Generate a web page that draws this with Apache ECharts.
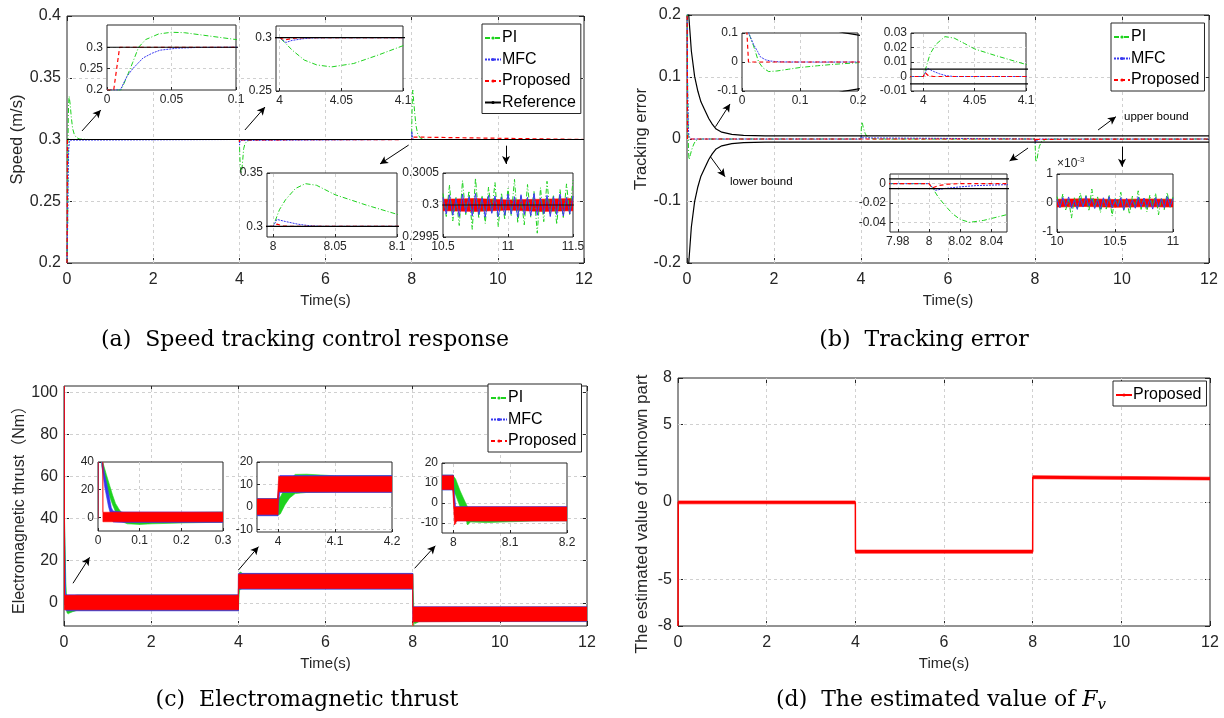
<!DOCTYPE html>
<html><head><meta charset="utf-8">
<script src="https://cdn.jsdelivr.net/npm/echarts@6/dist/echarts.min.js"></script>
<style>html,body{margin:0;padding:0;background:#fff}#c{width:1224px;height:718px}</style>
</head><body><div id="c"></div>
<script>
// ---------------- DATA ----------------
// (a) speed tracking
const aRef = [[0,0.3],[12,0.3]];
const aPI = [[0,0.2],[0.011,0.2],[0.016,0.235],[0.02,0.265],[0.0245,0.3],[0.03,0.318],[0.04,0.331],[0.05,0.335],[0.06,0.334],[0.075,0.328],[0.1,0.318],[0.13,0.309],[0.17,0.304],[0.22,0.3015],[0.3,0.3003],[0.5,0.3],[4,0.3],[4.005,0.2945],[4.01,0.2885],[4.02,0.279],[4.03,0.2745],[4.042,0.2726],[4.06,0.2758],[4.08,0.2838],[4.1,0.2925],[4.13,0.2965],[4.18,0.2988],[4.3,0.2998],[4.5,0.3],[8,0.3],[8.005,0.3155],[8.01,0.325],[8.018,0.3355],[8.026,0.34],[8.035,0.3385],[8.05,0.3296],[8.075,0.32],[8.1,0.3113],[8.14,0.3045],[8.2,0.3012],[8.3,0.3002],[8.5,0.3],[12,0.3]];
const aMFC = [[0,0.2],[0.0103,0.2],[0.0155,0.232],[0.02,0.25],[0.028,0.275],[0.035,0.286],[0.041,0.293],[0.054,0.2977],[0.07,0.2995],[0.1,0.3],[4,0.3],[4.005,0.2955],[4.01,0.2975],[4.02,0.2992],[4.027,0.2998],[4.04,0.3],[8,0.3],[8.003,0.3065],[8.01,0.3045],[8.02,0.302],[8.03,0.3005],[8.04,0.3],[12,0.3]];
const aPro = [[0,0.2],[0.0052,0.2],[0.0075,0.25],[0.0098,0.3],[4,0.3],[4.004,0.298],[4.012,0.2997],[4.02,0.3],[8,0.3],[8.003,0.302],[8.008,0.3005],[8.012,0.3],[12,0.3]];
const aNoiseT = [10.5,10.525,10.55,10.575,10.6,10.625,10.65,10.675,10.7,10.725,10.75,10.775,10.8,10.825,10.85,10.875,10.9,10.925,10.95,10.975,11,11.025,11.05,11.075,11.1,11.125,11.15,11.175,11.2,11.225,11.25,11.275,11.3,11.325,11.35,11.375,11.4,11.425,11.45,11.475,11.5];
const aNoisePI = [0.30018,0.29982,0.30031,0.29975,0.30012,0.29968,0.30038,0.29985,0.30022,0.29962,
  0.30042,0.29979,0.30015,0.29971,0.30028,0.29988,0.30035,0.29966,0.30019,0.29977,
  0.30026,0.29983,0.30040,0.29972,0.30014,0.29969,0.30032,0.29981,0.30021,0.29956,
  0.30027,0.29974,0.30037,0.29985,0.30016,0.29970,0.30024,0.29979,0.30033,0.29984,0.30039];
const aNoiseMFC = [0.30012,0.29986,0.30016,0.29984,0.30010,0.29982,0.30017,0.29988,0.30013,0.29983,
  0.30018,0.29985,0.30011,0.29981,0.30015,0.29987,0.30014,0.29982,0.30012,0.29984,
  0.30017,0.29986,0.30013,0.29981,0.30016,0.29985,0.30012,0.29983,0.30018,0.29984,
  0.30011,0.29986,0.30015,0.29982,0.30013,0.29985,0.30017,0.29983,0.30012,0.29986,0.30014];
const aNoiseProBand = [[10.5,0.29991,0.30009],[10.75,0.2999,0.3001],[11,0.29992,0.30008],[11.25,0.2999,0.30009],[11.5,0.29991,0.3001]];

// (b) tracking error
const bPI = [[0,0.3],[0.0115,0.1],[0.02,0.055],[0.0287,0],[0.036,-0.02],[0.046,-0.033],[0.06,-0.031],[0.08,-0.025],[0.1,-0.019],[0.13,-0.013],[0.158,-0.008],[0.2,-0.0025],[0.25,-0.001],[0.35,0],[4,0],[4.003,0.007],[4.0065,0.0154],[4.012,0.022],[4.021,0.0275],[4.03,0.0265],[4.04,0.0228],[4.05,0.019],[4.07,0.0145],[4.1,0.0083],[4.15,0.003],[4.25,0.0005],[4.4,0],[8,0],[8.002,-0.004],[8.006,-0.014],[8.01,-0.022],[8.015,-0.031],[8.02,-0.037],[8.026,-0.04],[8.035,-0.038],[8.05,-0.032],[8.07,-0.022],[8.1,-0.012],[8.15,-0.004],[8.25,-0.0005],[8.4,0],[12,0]];
const bMFC = [[0,0.3],[0.0115,0.1],[0.02,0.06],[0.027,0.036],[0.0316,0.018],[0.04,0.008],[0.049,0.0034],[0.06,0.0012],[0.08,0.0002],[0.1,0],[4,0],[4.004,0.0057],[4.01,0.0035],[4.016,0.0018],[4.0226,0.0005],[4.03,0],[8,0],[8.004,-0.0069],[8.01,-0.005],[8.02,-0.0033],[8.03,-0.002],[8.05,-0.001],[8.1,0],[12,0]];
const bPro = [[0,0.3],[0.0085,0.1],[0.0112,0],[4,0],[4.0015,0.0028],[4.005,0.0005],[4.01,0],[8,0],[8.002,-0.0045],[8.006,-0.002],[8.012,-0.0005],[8.02,0],[12,0]];
const bUpper = [[0,0.45],[0.04,0.2],[0.1,0.142],[0.175,0.101],[0.25,0.077],[0.32,0.06],[0.4,0.048],[0.5,0.033],[0.58,0.024],[0.67,0.016],[0.8,0.011],[1.03,0.0075],[1.3,0.0058],[1.8,0.0051],[12,0.005]];
const bLower = [[0,-0.45],[0.04,-0.2],[0.1,-0.142],[0.175,-0.101],[0.25,-0.077],[0.32,-0.06],[0.4,-0.048],[0.5,-0.033],[0.58,-0.024],[0.67,-0.016],[0.8,-0.011],[1.03,-0.0075],[1.3,-0.0058],[1.8,-0.0051],[12,-0.005]];
const bNoiseT = [10,10.025,10.05,10.075,10.1,10.125,10.15,10.175,10.2,10.225,10.25,10.275,10.3,10.325,10.35,10.375,10.4,10.425,10.45,10.475,10.5,10.525,10.55,10.575,10.6,10.625,10.65,10.675,10.7,10.725,10.75,10.775,10.8,10.825,10.85,10.875,10.9,10.925,10.95,10.975,11];
const bNoisePI = [0.00022,-0.00015,0.00031,-0.00024,0.00012,-0.00052,0.00018,-0.00019,0.00035,-0.00011,
  0.00026,-0.00028,0.00048,-0.00016,0.00021,-0.00033,0.00014,-0.00021,0.00029,-0.00045,
  0.00019,-0.00014,0.00037,-0.00026,0.00011,-0.00038,0.00024,-0.00017,0.00042,-0.00022,
  0.00016,-0.00031,0.00027,-0.00012,0.00033,-0.00041,0.00018,-0.00023,0.00036,-0.00015,0.00021];
const bNoiseMFC = [0.00013,-0.00016,0.00019,-0.00012,0.00021,-0.00018,0.00011,-0.00022,0.00017,-0.00014,
  0.00023,-0.00011,0.00015,-0.00019,0.00012,-0.00021,0.00018,-0.00013,0.00022,-0.00017,
  0.00014,-0.00012,0.00019,-0.00024,0.00016,-0.00015,0.00011,-0.00018,0.00021,-0.00013,
  0.00017,-0.00016,0.00013,-0.00021,0.00019,-0.00014,0.00015,-0.00017,0.00022,-0.00012,0.00016];
const bNoiseProBand = [[10,-0.00014,0.00013],[10.25,-0.00012,0.00015],[10.5,-0.00015,0.00012],[10.75,-0.00013,0.00014],[11,-0.00014,0.00013]];

// (c) electromagnetic thrust: noise envelopes [t, low, high]
const cPIBandA = [[0,-1,1],[0.002,100,106],[0.0094,37,42],[0.02,22,31],[0.028,15,23],[0.035,9,16],[0.042,4,10],[0.05,0,6],[0.056,-3,3.5],[0.07,-4.8,2],[0.1,-5.2,1.8],[0.13,-4.8,2.5],[0.2,-4.2,3.3],[0.3,-3.6,3.7],[4.0,-3.6,3.7]];
const cPIBandB = [[3.999,-3.6,3.7],[4.004,-3,4.5],[4.012,1,8.5],[4.02,4,12],[4.03,6,14.5],[4.05,6.5,14.6],[4.1,6.7,13.9],[8.0,6.7,13.9]];
const cPIBandC = [[7.999,6.7,13.9],[8.004,4,12],[8.012,-2,6],[8.02,-6,1],[8.025,-11,-2],[8.03,-9.5,-3],[8.06,-9.8,-3.2],[8.1,-9.4,-2.8],[8.15,-8.9,-2.2],[12,-8.8,-2]];
const cMFCBandA = [[0,-1,1],[0.002,100,106],[0.0094,37,42],[0.016,22,31],[0.025,8,18],[0.032,0,7],[0.036,-3.5,4.5],[0.06,-3.8,3.8],[4.0,-3.8,3.8]];
const cMFCBandB = [[3.999,-3.8,3.8],[4.003,6.5,14.0],[8.0,6.5,14.0]];
const cMFCBandC = [[7.999,6.5,14.0],[8.004,-8.9,-1.8],[12,-8.9,-1.8]];
const cProBandA = [[0,-1,1],[0.001,104,110],[0.0115,40,44],[0.0118,-3.3,3.6],[4.0,-3.3,3.6]];
const cProBandB = [[3.999,-3.3,3.6],[4.001,6.8,13.6],[8.0,6.8,13.6]];
const cProBandC = [[7.999,6.8,13.6],[8.002,-11,-2],[8.006,-9,-2],[12,-8.6,-2]];

// (d) estimated unknown part
const dEst = [[0,-8],[0.003,-8],[0.006,0],[4,-0.05],[4.003,-3.2],[8,-3.2],[8.003,1.6],[12,1.52]];
const dBandA = [[0.006,-0.12,0.07],[4,-0.12,0.07]];
const dBandB = [[4.003,-3.3,-3.1],[8,-3.3,-3.1]];
const dBandC = [[8.003,1.5,1.7],[12,1.42,1.6]];

// ticks
const ticksT = [0,2,4,6,8,10,12];
const aTicksY = [0.2,0.25,0.3,0.35,0.4];
const bTicksY = [-0.2,-0.1,0,0.1,0.2];
const cTicksY = [0,20,40,60,80,100];
const dTicksY = [-8,-5,0,5,8];

// annotation arrows (data coords: from, to)
const aArrows = [[[0.348,0.3069],[0.785,0.3239]],[[4.13,0.3077],[4.596,0.3263]],[[7.93,0.2955],[7.265,0.2802]],[[10.19,0.295],[10.19,0.2802]]];
const bArrows = [[[0.655,0.0198],[0.989,0.0565]],[[0.538,-0.0285],[0.874,-0.0608]],[[9.45,0.0145],[9.86,0.036]],[[7.84,-0.0145],[7.416,-0.0355]],[[10.0,-0.0124],[10.0,-0.0447]]];
const cArrows = [[[0.2065,9.3],[0.587,21.6]],[[4.004,15.6],[4.463,26.7]],[[8.045,16.4],[8.52,27.1]]];

// ---------------- STYLE / BUILD ----------------
const FONT = "'Liberation Sans', Arial, Helvetica, 'Noto Sans CJK SC', sans-serif";
const SERIF = "'DejaVu Serif', 'Liberation Serif', serif";
const AX = '#262626';
const GRIDC = '#d0d0d0';
const COL = {PI:'#1ed21e', MFC:'#3838f0', PRO:'#ff0000'};
const LS = {
  PI:{color:COL.PI,width:1,type:[5,2,1,2]},
  MFC:{color:COL.MFC,width:1,type:[2,1]},
  PRO:{color:COL.PRO,width:1.2,type:[4,3]},
  REF:{color:'#000',width:1.2,type:'solid'},
  DS:{color:COL.PRO,width:1.5,type:'solid'}
};
const Z = {mainGrid:0, mainLines:1, main:2, inGrid:5, inLines:6, inAxis:7, inner:8, arrows:9};
const grid=[], xAxis=[], yAxis=[], series=[], legend=[];

function ax(dim, gi, o, inset){
  const isX = dim==='x';
  const a = {type:'value', gridIndex:gi, min:o.min, max:o.max, z: inset?Z.inAxis:0, silent:true,
    axisLine:{show:false, onZero:false},
    axisTick:{show:true, inside:true, length: inset?3:5, lineStyle:{color:AX,width:1}, customValues:o.ticks},
    axisLabel:{color:AX, fontFamily:FONT, fontSize: inset?12:16, margin: inset?4:(isX?9:6), customValues:o.ticks, hideOverlap:false},
    splitLine:{show:false}
  };
  if (o.fmt) a.axisLabel.formatter = o.fmt;
  if (o.name) Object.assign(a, {name:o.name, nameLocation:'middle', nameGap:o.gap, nameRotate: isX?0:90,
    nameTextStyle:{fontFamily:FONT, fontSize:o.nameSize||15, color:AX, padding:o.namePad||0}});
  if (o.topName) Object.assign(a, {name:o.topName, nameLocation:'end', nameGap:2,
    nameTextStyle:{fontFamily:FONT, fontSize:12, color:AX, align:'left', verticalAlign:'bottom', rich:{s:{fontSize:8, fontFamily:FONT, color:AX, padding:[0,0,8,0]}}}});
  return a;
}
// dashed grid lines at the tick values, drawn through the axis scales
function gridLines(gi, xo, yo, inset){
  const data = [];
  xo.ticks.forEach(v=>{ if (v>xo.min && v<xo.max) data.push({xAxis:v}); });
  yo.ticks.forEach(v=>{ if (v>yo.min && v<yo.max) data.push({yAxis:v}); });
  series.push({type:'line', name:'grid', data:[], xAxisIndex:gi, yAxisIndex:gi, z: inset?Z.inLines:Z.mainLines, silent:true, animation:false,
    markLine:{z: inset?Z.inLines:Z.mainLines, silent:true, animation:false, symbol:['none','none'], label:{show:false}, emphasis:{disabled:true},
      lineStyle:{color:GRIDC, type:[3,3], width:1}, data}});
}
function panel(rect, xo, yo, inset){
  const gi = grid.length;
  grid.push({left:rect[0], top:rect[1], width:rect[2], height:rect[3], show:true, borderColor:AX, borderWidth:1,
    backgroundColor: inset?'#ffffff':'rgba(0,0,0,0)', z: inset?Z.inGrid:Z.mainGrid});
  xAxis.push(ax('x',gi,xo,inset)); yAxis.push(ax('y',gi,yo,inset));
  gridLines(gi, xo, yo, inset);
  return gi;
}
function line(gi, name, data, ls, inset){
  series.push({type:'line', name, xAxisIndex:gi, yAxisIndex:gi, data, showSymbol:false, symbol:'none',
    lineStyle:ls, itemStyle:{color:ls.color}, z: inset?Z.inner:Z.main, silent:true, animation:false, clip:true});
}
function band(gi, segs, color, inset){
  series.push({type:'custom', name:'band', xAxisIndex:gi, yAxisIndex:gi, z: inset?Z.inner:Z.main, silent:true, animation:false,
    data:[[segs[0][0], segs[0][1]]],
    renderItem:(params, api)=>{
      const up = segs.map(s=>api.coord([s[0], s[2]]));
      const lo = segs.slice().reverse().map(s=>api.coord([s[0], s[1]]));
      const cs = params.coordSys;
      return {type:'polygon', shape:{points: up.concat(lo)}, style:{fill:color, stroke:color, lineWidth:0.6},
        clipPath:{type:'rect', shape:{x:cs.x, y:cs.y, width:cs.width, height:cs.height}}};
    }});
}
function arrows(gi, list){
  series.push({type:'line', name:'arrows', xAxisIndex:gi, yAxisIndex:gi, data:[], z:Z.arrows, silent:true, animation:false,
    markLine:{z:Z.arrows, silent:true, animation:false, symbol:['none','arrow'], symbolSize:[6,8], precision:6,
      lineStyle:{color:'#000', width:1, type:'solid'}, label:{show:false}, emphasis:{disabled:true},
      data: list.map(p=>[{coord:p[0]},{coord:p[1]}])}});
}
function leg(prefix, names, left, top){
  legend.push({data: names.map(n=>prefix+'|'+n), formatter: n=>n.split('|')[1], orient:'vertical', left, top,
    itemWidth:16, itemHeight:4, itemGap:5.5, padding:[6,5,3,2], borderColor:AX, borderWidth:1, backgroundColor:'#fff',
    selectedMode:false, z:10, textStyle:{fontFamily:FONT, fontSize:16, color:'#000', padding:[0,0,0,-4]}});
}
const pair = (T, V) => T.map((t,i)=>[t, V[i]]);

// ---- (a) ----
const ga = panel([67,16,517,247], {min:0,max:12,ticks:ticksT,name:'Time(s)',gap:30}, {min:0.2,max:0.4,ticks:aTicksY,name:'Speed (m/s)',gap:40,nameSize:16.5}, false);
line(ga,'a|PI',aPI,LS.PI); line(ga,'a|MFC',aMFC,LS.MFC); line(ga,'a|Proposed',aPro,LS.PRO); line(ga,'a|Reference',aRef,LS.REF);
arrows(ga, aArrows);
leg('a',['PI','MFC','Proposed','Reference'],482,24);
[[[107,25,129,65],{min:0,max:0.1,ticks:[0,0.05,0.1]},{min:0.2,max:0.352,ticks:[0.2,0.25,0.3]}],
 [[276,26,127,65],{min:3.997,max:4.1,ticks:[4,4.05,4.1]},{min:0.25,max:0.311,ticks:[0.25,0.3]}],
 [[267,173,130,64],{min:7.995,max:8.1,ticks:[8,8.05,8.1]},{min:0.29,max:0.35,ticks:[0.3,0.35]}]
].forEach(c=>{
  const g = panel(c[0],c[1],c[2],true);
  line(g,'ai|PI',aPI,LS.PI,true); line(g,'ai|MFC',aMFC,LS.MFC,true); line(g,'ai|Proposed',aPro,LS.PRO,true); line(g,'ai|Ref',aRef,LS.REF,true);
});
{
  const g = panel([443,173,130,64],{min:10.5,max:11.5,ticks:[10.5,11,11.5]},{min:0.2995,max:0.3005,ticks:[0.2995,0.3,0.3005]},true);
  line(g,'ai|PI',pair(aNoiseT,aNoisePI),LS.PI,true);
  line(g,'ai|MFC',pair(aNoiseT,aNoiseMFC),{color:COL.MFC,width:1,type:'solid'},true);
  line(g,'ai|Ref',aRef,{color:'#000',width:0.8,type:'solid'},true);
  band(g,aNoiseProBand,COL.PRO,true);
}

// ---- (b) ----
const gb = panel([687,15,522,248], {min:0,max:12,ticks:ticksT,name:'Time(s)',gap:30}, {min:-0.2,max:0.2,ticks:bTicksY,name:'Tracking error',gap:35,nameSize:16.5}, false);
line(gb,'b|PI',bPI,LS.PI); line(gb,'b|MFC',bMFC,LS.MFC); line(gb,'b|Proposed',bPro,LS.PRO);
line(gb,'b|up',bUpper,LS.REF); line(gb,'b|low',bLower,LS.REF);
arrows(gb, bArrows);
leg('b',['PI','MFC','Proposed'],1111,23);
[[[742,33,116,58],{min:0,max:0.2,ticks:[0,0.1,0.2]},{min:-0.1,max:0.1,ticks:[-0.1,0,0.1]}],
 [[911,33,115,58],{min:3.988,max:4.1,ticks:[4,4.05,4.1]},{min:-0.01,max:0.03,ticks:[-0.01,0,0.01,0.02,0.03]}],
 [[890,174,117,58],{min:7.975,max:8.05,ticks:[7.98,8,8.02,8.04]},{min:-0.05,max:0.01,ticks:[-0.04,-0.02,0]}]
].forEach(c=>{
  const g = panel(c[0],c[1],c[2],true);
  line(g,'bi|PI',bPI,LS.PI,true); line(g,'bi|MFC',bMFC,LS.MFC,true); line(g,'bi|Proposed',bPro,LS.PRO,true);
  line(g,'bi|up',bUpper,LS.REF,true); line(g,'bi|low',bLower,LS.REF,true);
});
{
  const g = panel([1057,174,116,58],{min:10,max:11,ticks:[10,10.5,11]},
    {min:-0.001,max:0.001,ticks:[-0.001,0,0.001],fmt:v=>String(Math.round(v*1000)),topName:'×10{s|-3}'},true);
  line(g,'bi|PI',pair(bNoiseT,bNoisePI),LS.PI,true);
  line(g,'bi|MFC',pair(bNoiseT,bNoiseMFC),{color:COL.MFC,width:1,type:'solid'},true);
  band(g,bNoiseProBand,COL.PRO,true);
}

// ---- (c) ----
const gc = panel([64,386,523,240], {min:0,max:12,ticks:ticksT,name:'Time(s)',gap:30}, {min:-11,max:103,ticks:cTicksY,name:'Electromagnetic thrust（Nm）',gap:35,nameSize:16}, false);
function cBands(g, inset){
  [cPIBandA,cPIBandB,cPIBandC].forEach(s=>band(g,s,COL.PI,inset));
  [cMFCBandA,cMFCBandB,cMFCBandC].forEach(s=>band(g,s,COL.MFC,inset));
  [cProBandA,cProBandB,cProBandC].forEach(s=>band(g,s,COL.PRO,inset));
}
cBands(gc,false);
line(gc,'c|PI',[],LS.PI); line(gc,'c|MFC',[],LS.MFC); line(gc,'c|Proposed',[],LS.PRO);
arrows(gc, cArrows);
leg('c',['PI','MFC','Proposed'],488,384);
[[[98,462,125,69],{min:0,max:0.3,ticks:[0,0.1,0.2,0.3]},{min:-10,max:40,ticks:[0,20,40]}],
 [[257,462,135,70],{min:3.963,max:4.2,ticks:[4,4.1,4.2]},{min:-11,max:20,ticks:[-10,0,10,20]}],
 [[442,463,125,70],{min:7.98,max:8.2,ticks:[8,8.1,8.2]},{min:-15,max:20,ticks:[-10,0,10,20]}]
].forEach(c=>{ const g = panel(c[0],c[1],c[2],true); cBands(g,true); });

// ---- (d) ----
const gd = panel([678,378,532,248], {min:0,max:12,ticks:ticksT,name:'Time(s)',gap:30}, {min:-8,max:8,ticks:dTicksY,name:'The estimated value of unknown part',gap:27,nameSize:17,namePad:[0,24,0,0]}, false);
[dBandA,dBandB,dBandC].forEach(s=>band(gd,s,COL.PRO,false));
line(gd,'d|Proposed',dEst,LS.DS);
leg('d',['Proposed'],1113,381);

// box ticks on top/right of main panels
[ga,gb,gc,gd].forEach(gi=>{
  const xo = xAxis[gi], yo = yAxis[gi];
  xAxis.push({type:'value', gridIndex:gi, position:'top', min:xo.min, max:xo.max, silent:true, axisLine:{show:false, onZero:false},
    axisTick:{show:true, inside:true, length:5, lineStyle:{color:AX}, customValues:xo.axisTick.customValues},
    axisLabel:{show:false, customValues:xo.axisTick.customValues}, splitLine:{show:false}});
  yAxis.push({type:'value', gridIndex:gi, position:'right', min:yo.min, max:yo.max, silent:true, axisLine:{show:false, onZero:false},
    axisTick:{show:true, inside:true, length:5, lineStyle:{color:AX}, customValues:yo.axisTick.customValues},
    axisLabel:{show:false, customValues:yo.axisTick.customValues}, splitLine:{show:false}});
});

const capStyle = {fontFamily:SERIF, fontSize:22, fill:'#000', align:'center', verticalAlign:'middle'};
const graphic = [
  {type:'text', x:305, y:340, z:20, style:Object.assign({text:'(a)  Speed tracking control response'}, capStyle)},
  {type:'text', x:924, y:340, z:20, style:Object.assign({text:'(b)  Tracking error'}, capStyle)},
  {type:'text', x:307, y:700, z:20, style:Object.assign({text:'(c)  Electromagnetic thrust'}, capStyle)},
  {type:'text', x:941, y:700, z:20, style:Object.assign({text:'(d)  The estimated value of {i|F}{s|v}',
     rich:{i:{fontFamily:SERIF, fontSize:22, fontStyle:'italic'}, s:{fontFamily:SERIF, fontSize:15, fontStyle:'italic', padding:[11,0,0,0]}}}, capStyle)},
  {type:'text', x:730, y:182, z:20, style:{text:'lower bound', fontFamily:FONT, fontSize:11.5, fill:'#000', align:'left', verticalAlign:'middle'}},
  {type:'text', x:1124, y:117, z:20, style:{text:'upper bound', fontFamily:FONT, fontSize:11.5, fill:'#000', align:'left', verticalAlign:'middle'}}
];

const chart = echarts.init(document.getElementById('c'), null, {renderer:'canvas'});
chart.setOption({animation:false, backgroundColor:'#fff', grid, xAxis, yAxis, series, legend, graphic, tooltip:{show:false}});
</script></body></html>
